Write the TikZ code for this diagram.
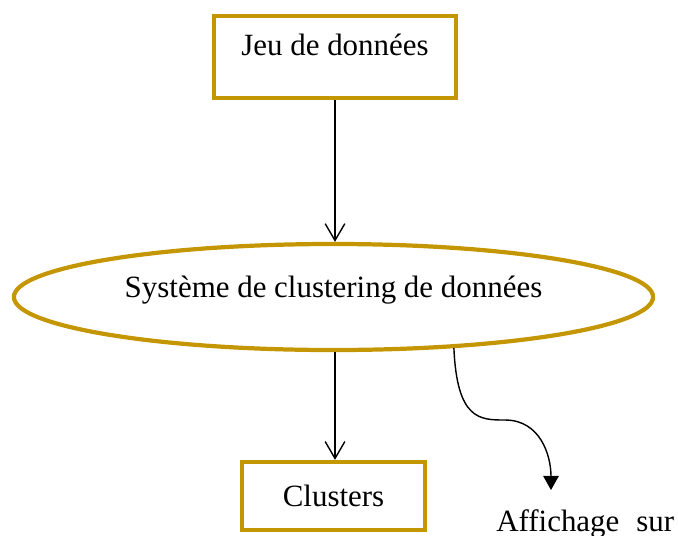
\documentclass[tikz,border=0pt]{standalone}
\usepackage{fontspec}
\setmainfont{Liberation Serif}
\usepackage{tikz}
\usetikzlibrary{arrows.meta, shapes.geometric}

\definecolor{gold}{RGB}{196,150,4}

\begin{document}
\begin{tikzpicture}[
    x=0.025cm, y=-0.025cm,
    every node/.style={font=\fontsize{22}{26}\selectfont},
    box/.style={draw=gold, line width=3.1pt, rectangle},
    sysbox/.style={draw=gold, line width=3pt, ellipse, inner sep=0pt,
                   minimum width=15.975cm, minimum height=2.65cm},
    arrow/.style={-{Straight Barb[length=12pt, width=14pt]}, line width=1pt},
    curvy/.style={-{Triangle[length=10pt, width=11pt]}, line width=1pt},
]
\useasboundingbox (0,0) rectangle (678,535);

\node[box, minimum width=6.05cm, minimum height=2.05cm] (jeu) at (335,57) {\raisebox{17pt}{Jeu de données}};
\node[sysbox] (sys) at (333.5,297) {\raisebox{14pt}{Système de clustering de données}};
\node[box, minimum width=4.575cm, minimum height=1.7cm] (clu) at (333.5,496) {Clusters};
\node[anchor=base west, inner sep=0pt] (aff) at (496,531) {Affichage\hspace{0.3em} sur};
\coordinate (affend) at (551,490);

% flow
\draw[arrow] (jeu.south) -- (jeu.south |- sys.north);
\draw[arrow] (jeu.south |- sys.south) -- (jeu.south |- clu.north);

% display
\draw[curvy] (sys.-23) .. controls (457,420) and (480,420) .. (505,420)
    .. controls (540,420) and (551,455) .. (affend);

\end{tikzpicture}
\end{document}
